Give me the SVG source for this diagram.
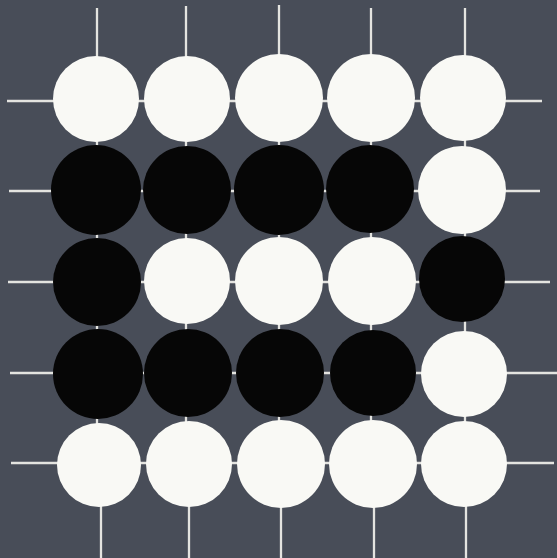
<svg xmlns="http://www.w3.org/2000/svg" width="557" height="558" viewBox="0 0 557 558">
<style>
.l{stroke:#e4e4e0;stroke-width:2.3;fill:none}
.w{fill:#f9f9f5}
.b{fill:#060606}
</style>
<rect width="557" height="558" fill="#484d58"/>
<g id="grid">
<path class="l" d="M97 8V464M186 6V464M279 5V464M371 8V464M465 8V464"/>
<path class="l" d="M101 464V558M189 464V558M281 464V558M374 464V558M466 464V558"/>
<path class="l" d="M7 101H542M9 191H540M8 282H550M10 373H557M11 463H554"/>
</g>
<g id="stones">
<g id="r1">
<circle class="w" cx="96" cy="99" r="43"/>
<circle class="w" cx="187" cy="99" r="43"/>
<circle class="w" cx="279" cy="98" r="44"/>
<circle class="w" cx="371" cy="98" r="44"/>
<circle class="w" cx="463" cy="98" r="43"/>
</g>
<g id="r2">
<circle class="b" cx="96" cy="190" r="45"/>
<circle class="b" cx="187" cy="190" r="44"/>
<circle class="b" cx="279" cy="190" r="45"/>
<circle class="b" cx="370" cy="189" r="44"/>
<circle class="w" cx="462" cy="190" r="44"/>
</g>
<g id="r3">
<circle class="b" cx="97" cy="282" r="44"/>
<circle class="w" cx="187" cy="281" r="43"/>
<circle class="w" cx="279" cy="281" r="44"/>
<circle class="w" cx="372" cy="281" r="44"/>
<circle class="b" cx="462" cy="279" r="43"/>
</g>
<g id="r4">
<circle class="b" cx="98" cy="374" r="45"/>
<circle class="b" cx="188" cy="373" r="44"/>
<circle class="b" cx="280" cy="373" r="44"/>
<circle class="b" cx="373" cy="373" r="43"/>
<circle class="w" cx="464" cy="374" r="43"/>
</g>
<g id="r5">
<circle class="w" cx="99" cy="465" r="42"/>
<circle class="w" cx="189" cy="464" r="43"/>
<circle class="w" cx="281" cy="464" r="44"/>
<circle class="w" cx="373" cy="464" r="44"/>
<circle class="w" cx="464" cy="464" r="43"/>
</g>
</g>
</svg>
